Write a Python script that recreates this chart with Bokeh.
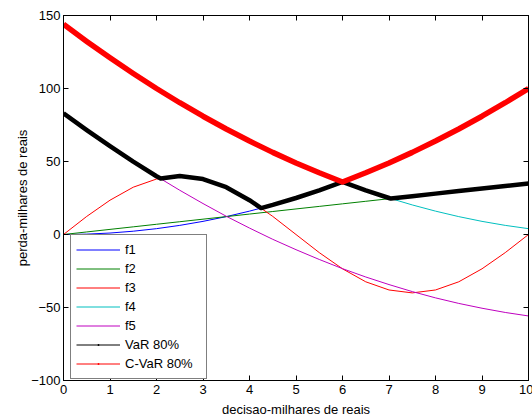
import numpy as np
from bokeh.plotting import figure
from bokeh.models import (Range1d, LinearAxis, FixedTicker, Legend, LegendItem,
                          CustomLabelingPolicy)
from bokeh.embed import file_html
from bokeh.resources import INLINE

# decision grid (milhares de reais)
x = [0, 0.5, 1, 1.5, 2, 2.5, 3, 3.5, 4, 4.5, 5, 5.5, 6, 6.5, 7, 7.5, 8, 8.5, 9, 9.5, 10]

f1 = [0, 0.25, 1, 2.25, 4, 6.25, 9, 12.25, 16, 20.25, 25, 30.25, 36, 42.25, 49,
      56.25, 64, 72.25, 81, 90.25, 100]
f2 = [0, 1.75, 3.5, 5.25, 7, 8.75, 10.5, 12.25, 14, 15.75, 17.5, 19.25, 21, 22.75,
      24.5, 26.25, 28, 29.75, 31.5, 33.25, 35]
f3 = [0, 12.4, 23.5, 32.4, 38.0, 40, 38.0, 32.4, 23.5, 12.4, 0, -12.4, -23.5, -32.4,
      -38.0, -40, -38.0, -32.4, -23.5, -12.4, 0]
f4 = [144, 132.25, 121, 110.25, 100, 90.25, 81, 72.25, 64, 56.25, 49, 42.25, 36,
      30.25, 25, 20.25, 16, 12.25, 9, 6.25, 4]
f5 = [83, 71.5, 60.5, 49.9, 39.9, 30.3, 21.2, 12.5, 4.4, -3.3, -10.4, -17.1, -23.4,
      -29.1, -34.3, -39.1, -43.4, -47.2, -50.5, -53.4, -55.8]

# VaR 80%
x_var = [0, 0.5, 1, 1.5, 2, 2.09, 2.5, 3, 3.5, 4, 4.25, 4.5, 5, 5.5, 6, 6.5, 7, 7.04,
         7.5, 8, 8.5, 9, 9.5, 10]
var80 = [83, 71.5, 60.5, 49.9, 39.9, 38.4, 40, 38.0, 32.4, 23.5, 18.1, 20.25, 25,
         30.25, 36, 30.25, 25, 24.6, 26.25, 28, 29.75, 31.5, 33.25, 35]

# C-VaR 80%
x_cvar = x
cvar80 = [144, 132.25, 121, 110.25, 100, 90.25, 81, 72.25, 64, 56.25, 49, 42.25, 36,
          42.25, 49, 56.25, 64, 72.25, 81, 90.25, 100]

x_ticks = [0, 1, 2, 3, 4, 5, 6, 7, 8, 9, 10]
y_ticks = [-100, -50, 0, 50, 100, 150]

FONT = "Liberation Sans"

p = figure(frame_width=465, frame_height=365,
           x_range=Range1d(0, 10), y_range=Range1d(-100, 150),
           output_backend="svg", toolbar_location=None,
           min_border_left=63, min_border_right=2, min_border_top=15, min_border_bottom=30)
p.grid.visible = False
p.outline_line_color = "black"
p.background_fill_color = "white"
p.border_fill_color = "white"

def style_axis(ax, labels=True):
    ax.minor_tick_line_color = None
    ax.major_tick_in = 5
    ax.major_tick_out = 0
    ax.major_tick_line_color = "black"
    ax.axis_line_color = "black"
    ax.major_label_text_font = FONT
    ax.major_label_text_color = "black"
    if labels:
        ax.major_label_text_font_size = "13px"
        ax.major_label_standoff = 4
    else:
        ax.major_label_text_font_size = "1px"
        ax.major_label_standoff = 0
        ax.major_label_policy = CustomLabelingPolicy(code="return new Set()")
    ax.axis_label_text_font = FONT
    ax.axis_label_text_font_size = "13px"
    ax.axis_label_text_font_style = "normal"
    ax.axis_label_text_color = "black"

p.xaxis.ticker = FixedTicker(ticks=x_ticks)
p.yaxis.ticker = FixedTicker(ticks=y_ticks)
p.xaxis.axis_label = "decisao-milhares de reais"
p.yaxis.axis_label = "perda-milhares de reais"
style_axis(p.xaxis[0])
style_axis(p.yaxis[0])
p.xaxis.axis_label_standoff = 5
p.yaxis.axis_label_standoff = -2
p.yaxis.major_label_standoff = 3

top_ax = LinearAxis(ticker=FixedTicker(ticks=x_ticks))
style_axis(top_ax, labels=False)
p.add_layout(top_ax, "above")
right_ax = LinearAxis(ticker=FixedTicker(ticks=y_ticks))
style_axis(right_ax, labels=False)
p.add_layout(right_ax, "right")

r1 = p.line(x, f1, line_color="#0000FF", line_width=1)
r2 = p.line(x, f2, line_color="#008000", line_width=1)
r3 = p.line(x, f3, line_color="#FF0000", line_width=1)
r4 = p.line(x, f4, line_color="#00BFBF", line_width=1)
r5 = p.line(x, f5, line_color="#BF00BF", line_width=1)
rv = p.line(x_var, var80, line_color="black", line_width=4.5, line_join="round")
rc = p.line(x_cvar, cvar80, line_color="#FF0000", line_width=5.5, line_join="round")

nan = np.array([np.nan])
lv = p.line(nan, nan, line_color="black", line_width=1)
dv = p.scatter(nan, nan, marker="dot", size=8, line_width=2.5, fill_color="black", line_color="black")
lc = p.line(nan, nan, line_color="#FF0000", line_width=1)
dc = p.scatter(nan, nan, marker="dot", size=8, line_width=2.5, fill_color="#FF0000", line_color="#FF0000")

legend = Legend(items=[
    LegendItem(label="f1", renderers=[r1]),
    LegendItem(label="f2", renderers=[r2]),
    LegendItem(label="f3", renderers=[r3]),
    LegendItem(label="f4", renderers=[r4]),
    LegendItem(label="f5", renderers=[r5]),
    LegendItem(label="VaR 80%", renderers=[lv, dv]),
    LegendItem(label="C-VaR 80%", renderers=[lc, dc]),
], location=(7, 1))
legend.margin = 0
legend.padding = 5
legend.spacing = 0
legend.glyph_width = 44
legend.glyph_height = 19
legend.label_height = 19
legend.label_width = 76
legend.label_standoff = 5
legend.label_text_font = FONT
legend.label_text_font_size = "13px"
legend.label_text_color = "black"
legend.border_line_color = "black"
legend.border_line_width = 1
legend.background_fill_color = "white"
legend.background_fill_alpha = 1.0
p.add_layout(legend)

open("out.html", "w").write(file_html(p, INLINE))
